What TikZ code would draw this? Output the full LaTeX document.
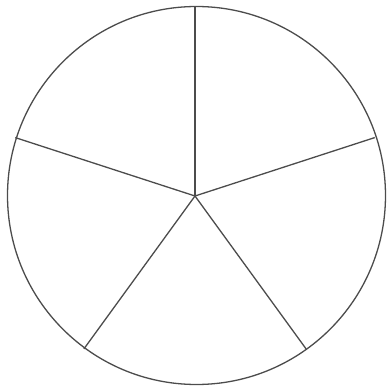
\documentclass[tikz,border=0pt]{standalone}
\begin{document}
\begin{tikzpicture}[x=1pt,y=1pt,line/.style={draw=black!70,line width=1.3pt}]
\useasboundingbox (0,0) rectangle (388,392);
\coordinate (c) at (195,196);
\coordinate (o) at (196.5,196.5);
\draw[line] (o) circle (189);
\foreach \a/\n in {90/p1,18/p2,-54/p3,-126/p4,162/p5}{
  \path (c) -- ++(\a:189) coordinate (\n);
}
\foreach \n in {p1,p2,p3,p4,p5}{
  \draw[line] (c) -- (\n);
}
\end{tikzpicture}
\end{document}
